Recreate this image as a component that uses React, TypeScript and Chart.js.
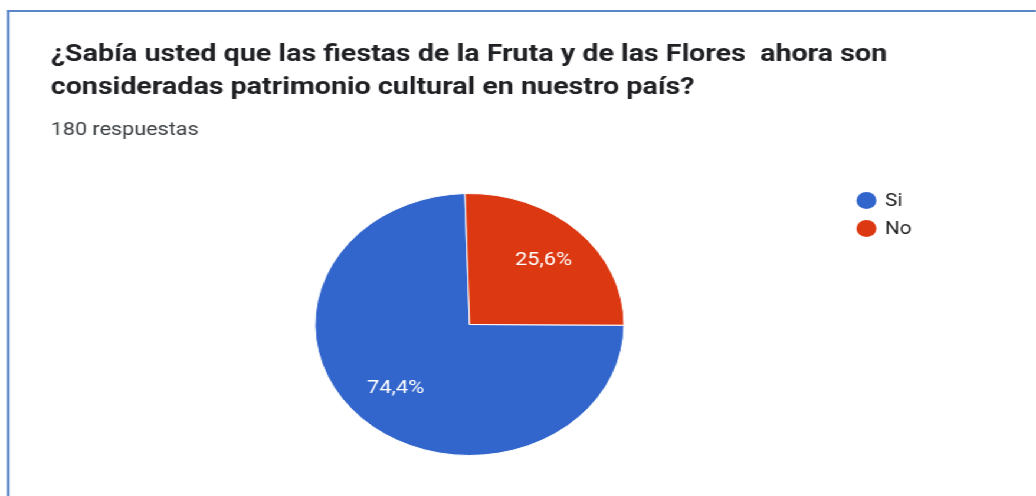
import React, { useEffect, useRef } from "react";
import { Chart, registerables } from "chart.js";

Chart.register(...registerables);

// ---- data ----
const titleLines = [
  "¿Sabía usted que las fiestas de la Fruta y de las Flores  ahora son",
  "consideradas patrimonio cultural en nuestro país?",
];
const subtitle = "180 respuestas";
const categories = ["Si", "No"];
const counts = [134, 46];
const colors = ["#3366cc", "#dc3912"];

// ---- layout (the reference is stretched horizontally) ----
const SX = 1.18;
const W = 1036 / SX;
const H = 496;

const total = counts.reduce((a, b) => a + b, 0);
const percentLabels = counts.map((c) => ((c / total) * 100).toFixed(1).replace(".", ",") + "%");

const overlayPlugin = {
  id: "overlay",
  afterDraw(chart: any) {
    const ctx = chart.ctx as CanvasRenderingContext2D;
    ctx.save();
    // title
    ctx.textAlign = "left";
    ctx.textBaseline = "alphabetic";
    ctx.fillStyle = "#202124";
    ctx.font = "bold 24.3px Roboto";
    ctx.fillText(titleLines[0], 43, 61);
    ctx.fillText(titleLines[1], 43, 94);
    // subtitle
    ctx.font = "18.3px Roboto";
    ctx.fillStyle = "#3c4043";
    ctx.fillText(subtitle, 43, 135);
    // legend
    categories.forEach((c, i) => {
      const cy = 200.5 + i * 28;
      ctx.beginPath();
      ctx.arc(734.3, cy, 8.5, 0, Math.PI * 2);
      ctx.fillStyle = colors[i];
      ctx.fill();
      ctx.fillStyle = "#222222";
      ctx.font = "17.5px Roboto";
      ctx.textBaseline = "middle";
      ctx.fillText(c, 750, cy + 1);
    });
    // slice labels
    const meta = chart.getDatasetMeta(0);
    meta.data.forEach((arc: any, i: number) => {
      const p = arc.getProps(["x", "y", "startAngle", "endAngle", "outerRadius"], true);
      const mid = (p.startAngle + p.endAngle) / 2;
      const r = p.outerRadius * 0.685;
      ctx.fillStyle = "#ffffff";
      ctx.font = "18.5px Roboto";
      ctx.textAlign = "center";
      ctx.textBaseline = "middle";
      ctx.fillText(percentLabels[i], p.x + Math.cos(mid) * r, p.y + Math.sin(mid) * r);
    });
    ctx.restore();
  },
};

export default function App() {
  const canvasRef = useRef<HTMLCanvasElement | null>(null);

  useEffect(() => {
    document.body.style.overflow = "hidden";
    const cx = 397.9;
    const cy = 324.5;
    const rad = 131.5;
    const chart = new Chart(canvasRef.current!, {
      type: "pie",
      data: {
        labels: categories,
        datasets: [
          {
            data: counts,
            backgroundColor: colors,
            borderColor: "#ffffff",
            borderWidth: 1,
          },
        ],
      },
      options: {
        animation: false,
        responsive: true,
        maintainAspectRatio: false,
        rotation: (360 * counts[1]) / total - 1.7,
        layout: {
          padding: {
            left: cx - rad,
            right: W - (cx + rad),
            top: cy - rad,
            bottom: H - (cy + rad),
          },
        },
        plugins: {
          legend: { display: false },
          title: { display: false },
          tooltip: { enabled: false },
        },
      },
      plugins: [overlayPlugin],
    });
    return () => chart.destroy();
  }, []);

  return (
    <div
      style={{
        position: "absolute",
        left: 0,
        top: 0,
        width: W,
        height: H,
        overflow: "hidden",
        transform: `scaleX(${SX})`,
        transformOrigin: "0 0",
        background: "#ffffff",
      }}
    >
      <div
        style={{
          position: "absolute",
          left: 6,
          top: 10,
          width: W + 20,
          height: H + 20,
          borderTop: "2px solid #5a86c8",
          borderLeft: "2px solid #5a86c8",
          boxSizing: "border-box",
        }}
      />
      <div style={{ position: "absolute", left: 0, top: 0, width: W, height: H }}>
        <canvas ref={canvasRef} />
      </div>
    </div>
  );
}
